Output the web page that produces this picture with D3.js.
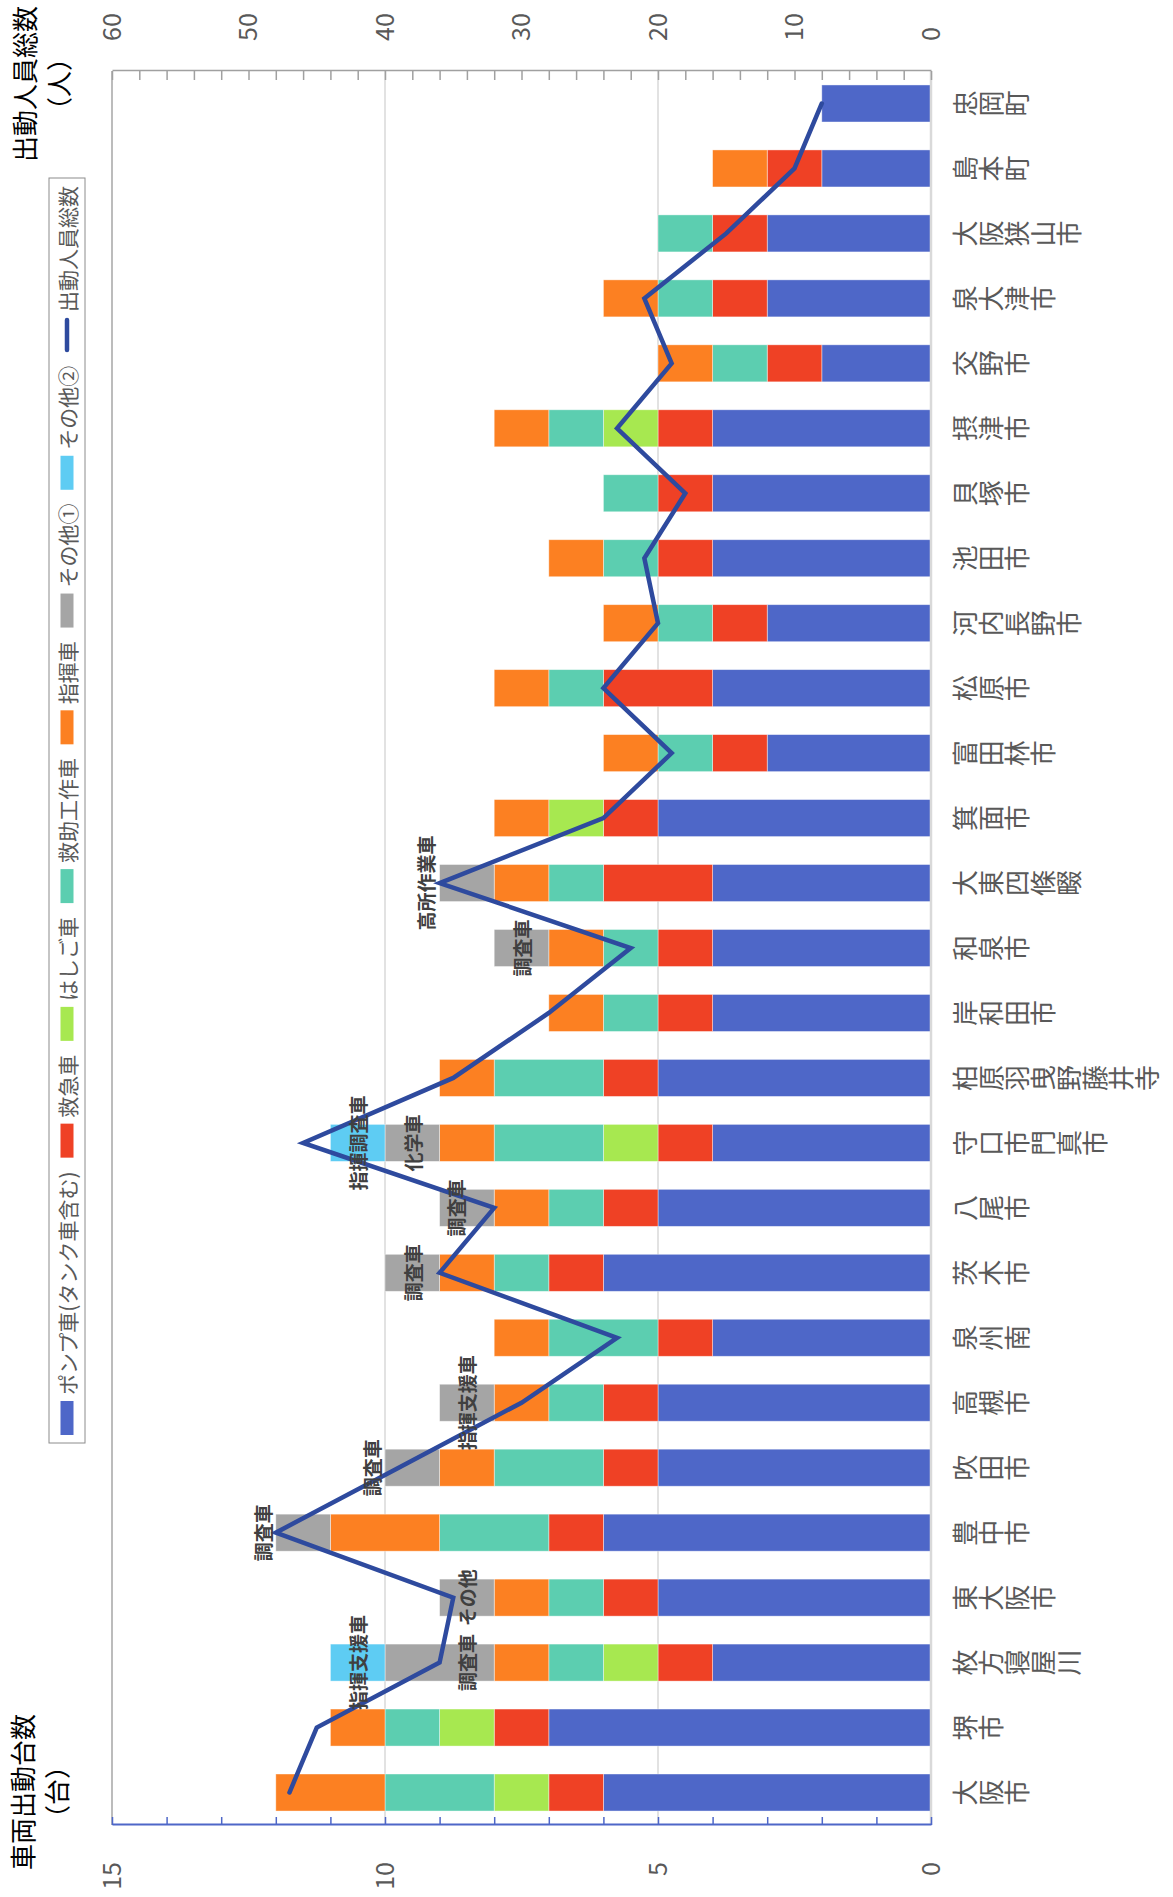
<!DOCTYPE html>
<html>
<head>
<meta charset="utf-8">
<script src="https://cdnjs.cloudflare.com/ajax/libs/d3/7.8.5/d3.min.js"></script>
<style>
  body { margin: 0; background: #fff; }
  svg { display: block; }
  text { font-family: "Noto Sans CJK JP", "Noto Sans", sans-serif; }
</style>
</head>
<body>
<div id="vis"></div>
<script>
//-- Data
var categories = ["大阪市", "堺市", "枚方寝屋川", "東大阪市", "豊中市", "吹田市", "高槻市", "泉州南",
  "茨木市", "八尾市", "守口市門真市", "柏原羽曳野藤井寺", "岸和田市", "和泉市", "大東四條畷",
  "箕面市", "富田林市", "松原市", "河内長野市", "池田市", "貝塚市", "摂津市", "交野市",
  "泉大津市", "大阪狭山市", "島本町", "忠岡町"];

var pump     = [6, 7, 4, 5, 6, 5, 5, 4, 6, 5, 4, 5, 4, 4, 4, 5, 3, 4, 3, 4, 4, 4, 2, 3, 3, 2, 2];
var ambulance= [1, 1, 1, 1, 1, 1, 1, 1, 1, 1, 1, 1, 1, 1, 2, 1, 1, 2, 1, 1, 1, 1, 1, 1, 1, 1, 0];
var ladder   = [1, 1, 1, 0, 0, 0, 0, 0, 0, 0, 1, 0, 0, 0, 0, 1, 0, 0, 0, 0, 0, 1, 0, 0, 0, 0, 0];
var rescue   = [2, 1, 1, 1, 2, 2, 1, 2, 1, 1, 2, 2, 1, 1, 1, 0, 1, 1, 1, 1, 1, 1, 1, 1, 1, 0, 0];
var command  = [2, 1, 1, 1, 2, 1, 1, 1, 1, 1, 1, 1, 1, 1, 1, 1, 1, 1, 1, 1, 0, 1, 1, 1, 0, 1, 0];
var other1   = [0, 0, 2, 1, 1, 1, 1, 0, 1, 1, 1, 0, 0, 1, 1, 0, 0, 0, 0, 0, 0, 0, 0, 0, 0, 0, 0];
var other2   = [0, 0, 1, 0, 0, 0, 0, 0, 0, 0, 1, 0, 0, 0, 0, 0, 0, 0, 0, 0, 0, 0, 0, 0, 0, 0, 0];
var personnel= [47, 45, 36, 35, 48, 39, 30, 23, 36, 32, 46, 35, 28, 22, 36, 24, 19, 24, 20, 21, 18, 23, 19, 21, 15, 10, 8];

var other1Labels = ["", "", "調査車", "その他", "調査車", "調査車", "指揮支援車", "", "調査車", "調査車",
  "化学車", "", "", "調査車", "高所作業車", "", "", "", "", "", "", "", "", "", "", "", ""];
var other2Labels = ["", "", "指揮支援車", "", "", "", "", "", "", "", "指揮調査車", "", "", "", "",
  "", "", "", "", "", "", "", "", "", "", "", ""];

var seriesNames = ["ポンプ車(タンク車含む)", "救急車", "はしご車", "救助工作車", "指揮車", "その他①", "その他②"];
var lineName = "出動人員総数";
var vehicleTicks = [0, 5, 10, 15];
var personnelTicks = [0, 10, 20, 30, 40, 50, 60];

//-- Setup: chart is drawn upright (1897 x 1173) and turned 90deg counter-clockwise
var W = 1897, H = 1173;
var colors = ["#4E67C8", "#EF4125", "#A7E850", "#5CCEB0", "#FC8022", "#A5A5A5", "#5ECCF3"];
var lineColor = "#2E4A9E";

var svg = d3.select("#vis").append("svg")
  .attr("width", H).attr("height", W);
var g = svg.append("g").attr("transform", "translate(0," + W + ") rotate(-90)");

var plotL = 72, plotR = 1826, plotT = 112, plotB = 931;

var x = d3.scaleBand().domain(categories).range([plotL, plotR])
  .paddingInner(0.43).paddingOuter(0.215);
var yV = d3.scaleLinear().domain([0, 15]).range([plotB, plotT]);
var yP = d3.scaleLinear().domain([0, 60]).range([plotB, plotT]);

// gridlines
g.append("g").selectAll("line")
  .data([5, 10])
  .enter().append("line")
  .attr("x1", plotL).attr("x2", plotR)
  .attr("y1", function(d) { return yV(d); }).attr("y2", function(d) { return yV(d); })
  .attr("stroke", "#D9D9D9").attr("stroke-width", 1.5);
g.append("line")
  .attr("x1", plotL).attr("x2", plotR).attr("y1", yV(15)).attr("y2", yV(15))
  .attr("stroke", "#A6A6A6").attr("stroke-width", 1.5);

// stacked bars
var rows = categories.map(function(c, i) {
  return { cat: c, s0: pump[i], s1: ambulance[i], s2: ladder[i], s3: rescue[i],
           s4: command[i], s5: other1[i], s6: other2[i] };
});
var keys = ["s0", "s1", "s2", "s3", "s4", "s5", "s6"];
var stacked = d3.stack().keys(keys)(rows);

g.append("g").selectAll("g")
  .data(stacked)
  .enter().append("g")
  .attr("fill", function(d, i) { return colors[i]; })
  .selectAll("rect")
  .data(function(d) { return d.filter(function(p) { return p[1] > p[0]; }); })
  .enter().append("rect")
  .attr("x", function(d) { return x(d.data.cat); })
  .attr("width", x.bandwidth())
  .attr("y", function(d) { return yV(d[1]); })
  .attr("height", function(d) { return yV(d[0]) - yV(d[1]); })
  .attr("stroke", "#fff").attr("stroke-opacity", 0.5).attr("stroke-width", 0.8);

// category axis line
g.append("line")
  .attr("x1", plotL).attr("x2", plotR).attr("y1", plotB).attr("y2", plotB)
  .attr("stroke", "#D9D9D9").attr("stroke-width", 2.5);

// left axis (vehicles)
var axL = g.append("g").attr("transform", "translate(" + plotL + ",0)")
  .call(d3.axisLeft(yV).tickValues(d3.range(0, 16)).tickSize(-8).tickSizeOuter(0).tickPadding(37)
    .tickFormat(function(d) { return vehicleTicks.indexOf(d) >= 0 ? d : ""; }));
axL.select(".domain").attr("stroke", "#4E67C8").attr("stroke-width", 2);
axL.selectAll(".tick line").attr("stroke", "#4E67C8").attr("stroke-width", 1.5);
axL.selectAll(".tick text").attr("fill", "#595959").style("font-size", "25px");

// right axis (personnel)
var axR = g.append("g").attr("transform", "translate(" + plotR + ",0)")
  .call(d3.axisRight(yP).tickValues(d3.range(0, 61, 2)).tickSize(-9).tickSizeOuter(0).tickPadding(30)
    .tickFormat(function(d) { return personnelTicks.indexOf(d) >= 0 ? d : ""; }));
axR.select(".domain").attr("stroke", "#A0A0A0").attr("stroke-width", 1.5);
axR.selectAll(".tick line").attr("stroke", "#A0A0A0").attr("stroke-width", 1.5);
axR.selectAll(".tick text").attr("fill", "#595959").style("font-size", "25px");

// personnel line
var line = d3.line()
  .x(function(d, i) { return x(categories[i]) + x.bandwidth() / 2; })
  .y(function(d) { return yP(d); });
g.append("path")
  .datum(personnel)
  .attr("d", line)
  .attr("fill", "none")
  .attr("stroke", lineColor)
  .attr("stroke-width", 4.5)
  .attr("stroke-linecap", "round");

// labels on the "other" segments
var labelNudge = { "枚方寝屋川": -0.5, "豊中市": 0.75, "吹田市": 0.75, "大東四條畷": 0.75, "八尾市": 0.2 };
var segLabels = [];
categories.forEach(function(c, i) {
  var base = pump[i] + ambulance[i] + ladder[i] + rescue[i] + command[i];
  if (other1Labels[i]) segLabels.push({ cat: c, text: other1Labels[i], v: base + other1[i] / 2 + (labelNudge[c] || 0) });
  if (other2Labels[i]) segLabels.push({ cat: c, text: other2Labels[i], v: base + other1[i] + other2[i] / 2 });
});
g.append("g").selectAll("text")
  .data(segLabels)
  .enter().append("text")
  .attr("x", function(d) { return x(d.cat) + x.bandwidth() / 2; })
  .attr("y", function(d) { return yV(d.v); })
  .attr("text-anchor", "middle")
  .attr("dominant-baseline", "central")
  .attr("fill", "#404040")
  .style("font-size", "19px")
  .style("font-weight", "bold")
  .text(function(d) { return d.text; });

// category labels, stacked characters
var catG = g.append("g").selectAll("g")
  .data(categories)
  .enter().append("g");
catG.each(function(c) {
  var chars = c.split("");
  d3.select(this).selectAll("text")
    .data(chars)
    .enter().append("text")
    .attr("x", x(c) + x.bandwidth() / 2)
    .attr("y", function(ch, j) { return 950 + 13 + j * 26; })
    .attr("text-anchor", "middle")
    .attr("dominant-baseline", "central")
    .attr("fill", "#595959")
    .style("font-size", "26px")
    .text(function(ch) { return ch; });
});

// axis titles
function title(lines, cx, ys) {
  lines.forEach(function(t, i) {
    g.append("text").attr("x", cx).attr("y", ys[i])
      .attr("text-anchor", "middle").attr("dominant-baseline", "central")
      .attr("fill", "#000").style("font-size", "26px").text(t);
  });
}
title(["車両出動台数", "（台）"], 105, [21, 55]);
title(["出動人員総数", "（人）"], 1813, [23, 57]);

// legend
var legX0 = 454, legX1 = 1719, legY0 = 49, legY1 = 85;
var leg = g.append("g");
leg.append("rect").attr("x", legX0).attr("y", legY0)
  .attr("width", legX1 - legX0).attr("height", legY1 - legY0)
  .attr("fill", "#fff").attr("stroke", "#8C8C8C").attr("stroke-width", 1);
var legItems = seriesNames.map(function(n, i) { return { name: n, color: colors[i], type: "rect" }; });
legItems.push({ name: lineName, color: lineColor, type: "line" });
var swW = 34, swGap = 6, pad = 8;
var items = leg.selectAll("g.item").data(legItems).enter().append("g").attr("class", "item");
items.append("text")
  .attr("dominant-baseline", "central")
  .attr("fill", "#595959")
  .style("font-size", "21px")
  .text(function(d) { return d.name; });
var widths = [];
items.each(function() { widths.push(this.querySelector("text").getComputedTextLength()); });
var total = d3.sum(widths) + legItems.length * (swW + swGap);
var spacing = (legX1 - legX0 - 2 * pad - total) / (legItems.length - 1);
var cx = legX0 + pad, cy = (legY0 + legY1) / 2;
items.each(function(d, i) {
  var it = d3.select(this);
  if (d.type === "rect") {
    it.append("rect").attr("x", cx).attr("y", cy - 6.5).attr("width", swW).attr("height", 13).attr("fill", d.color);
  } else {
    it.append("line").attr("x1", cx + 2).attr("x2", cx + swW - 2).attr("y1", cy).attr("y2", cy)
      .attr("stroke", d.color).attr("stroke-width", 4.5).attr("stroke-linecap", "round");
  }
  it.select("text").attr("x", cx + swW + swGap).attr("y", cy);
  cx += swW + swGap + widths[i] + spacing;
});
</script>
</body>
</html>
